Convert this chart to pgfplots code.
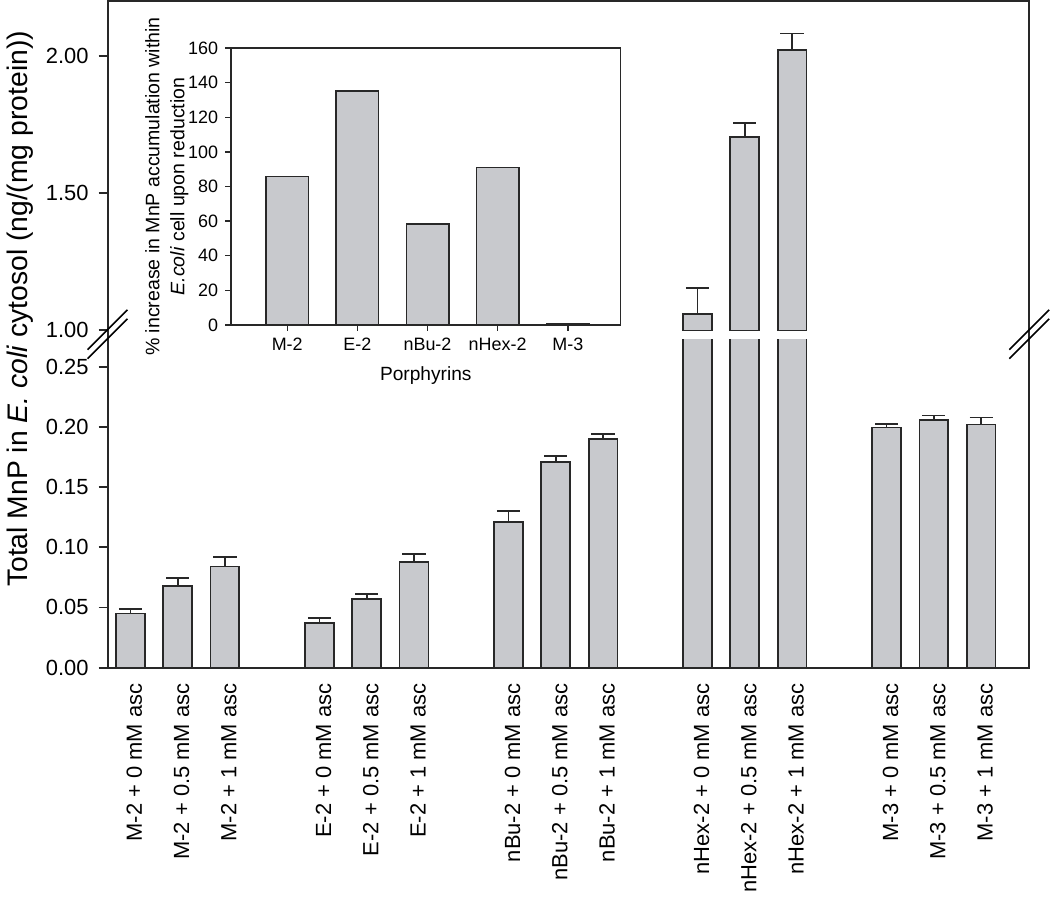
\documentclass[border=0pt]{standalone}
\usepackage{pgfplots}
\pgfplotsset{compat=1.18}
\usepackage{fontspec}
\setmainfont{Liberation Sans}
\definecolor{barfill}{RGB}{200,201,205}
\definecolor{edge}{RGB}{40,40,40}

\pgfplotstableread{
x y e
0 0.045 0.004
1 0.068 0.0065
2 0.084 0.008
4 0.037 0.004
5 0.057 0.004
6 0.0875 0.0066
8 0.121 0.009
9 0.171 0.005
10 0.190 0.004
12 1.058 0.095
13 1.703 0.053
14 2.021 0.060
16 0.1995 0.003
17 0.2055 0.004
18 0.202 0.0058
}\maintable

\pgfplotstableread{
x y e
12 1.058 0.095
13 1.703 0.053
14 2.021 0.060
}\hextable

\pgfplotstableread{
x y
1 85.9
2 135.2
3 58.2
4 90.9
5 0.8
}\insettable

\begin{document}
\begin{tikzpicture}
\pgfplotsset{
  mainstyle/.style={
    scale only axis, width=462.5pt, xmin=-0.485, xmax=19.02,
    axis line style={draw=none},
    tick align=outside, major tick length=4.5pt,
    ytick pos=left,
    ytick style={line width=0.9pt, color=edge},
    xtick style={draw=none},
    yticklabel style={font=\fontsize{11}{13}\selectfont, xshift=-1.5pt},
    ybar, bar width=0.61, bar shift=0pt,
    clip=true,
  },
  barstyle/.style={fill=barfill, draw=edge, line width=0.9pt,
    error bars/.cd, y dir=plus, y explicit,
    error bar style={line width=0.9pt, draw=edge},
    error mark options={rotate=90, line width=0.9pt, draw=edge, mark size=5.8pt}},
}
% lower part
\begin{axis}[mainstyle, at={(0pt,0pt)}, anchor=south west,
  height=164.5pt, ymin=0, ymax=0.2723,
  ytick={0,0.05,0.1,0.15,0.2,0.25},
  yticklabels={0.00,0.05,0.10,0.15,0.20,0.25},
  xtick={0,1,2,4,5,6,8,9,10,12,13,14,16,17,18},
  xticklabels={M-2 + 0 mM asc, M-2 + 0.5 mM asc, M-2 + 1 mM asc,
    E-2 + 0 mM asc, E-2 + 0.5 mM asc, E-2 + 1 mM asc,
    nBu-2 + 0 mM asc, nBu-2 + 0.5 mM asc, nBu-2 + 1 mM asc,
    nHex-2 + 0 mM asc, nHex-2 + 0.5 mM asc, nHex-2 + 1 mM asc,
    M-3 + 0 mM asc, M-3 + 0.5 mM asc, M-3 + 1 mM asc},
  xtick pos=bottom,
  xticklabel style={rotate=90, anchor=east, font=\fontsize{11}{13}\selectfont, yshift=-2pt},
]
\addplot[barstyle] table[x=x, y=y, y error=e] {\maintable};
\end{axis}
% upper part
\begin{axis}[mainstyle, at={(0pt,169pt)}, anchor=south west,
  height=165.5pt, ymin=0.99636, ymax=2.2,
  ytick={1,1.5,2}, yticklabels={1.00,1.50,2.00},
  xtick=\empty,
]
\addplot[barstyle] table[x=x, y=y, y error=e] {\hextable};
\end{axis}
% frame
\draw[line width=1pt, edge] (0pt,0pt) rectangle (462.5pt,334.5pt);
% break marks
\foreach \yy in {169.5pt,165pt}{
  \draw[line width=0.8pt, black] (-10pt,\yy-10pt) -- (10pt,\yy+10pt);
  \draw[line width=0.8pt, black] (452.5pt,\yy-10pt) -- (472.5pt,\yy+10pt);
}
% y label
\node[rotate=90, font=\fontsize{14.2}{17}\selectfont] at (-44pt,180pt)
  {Total MnP in \textit{E. coli} cytosol (ng/(mg protein))};
% inset
\begin{axis}[at={(62pt,172pt)}, anchor=south west, scale only axis,
  width=195.35pt, height=138.85pt,
  xmin=0.2, xmax=5.75, ymin=0, ymax=160,
  ytick={0,20,...,160}, xtick={1,2,3,4,5},
  xticklabels={M-2,E-2,nBu-2,nHex-2,M-3},
  tick pos=left, tick align=outside, major tick length=3pt,
  tick style={line width=0.7pt, color=edge},
  axis line style={line width=0.75pt, draw=edge},
  axis background/.style={fill=white},
  ticklabel style={font=\fontsize{9}{10}\selectfont},
  /pgf/number format/assume math mode=true,
  ylabel={\% increase in MnP accumulation within\\\textit{E.coli} cell upon reduction},
  ylabel style={align=center, font=\fontsize{9.8}{12.5}\selectfont, yshift=-7pt},
  xlabel={Porphyrins}, xlabel style={font=\fontsize{9.6}{11}\selectfont, yshift=-1pt},
  ybar, bar width=0.606, bar shift=0pt,
]
\addplot[fill=barfill, draw=edge, line width=0.75pt] table[x=x, y=y] {\insettable};
\end{axis}
\end{tikzpicture}
\end{document}
